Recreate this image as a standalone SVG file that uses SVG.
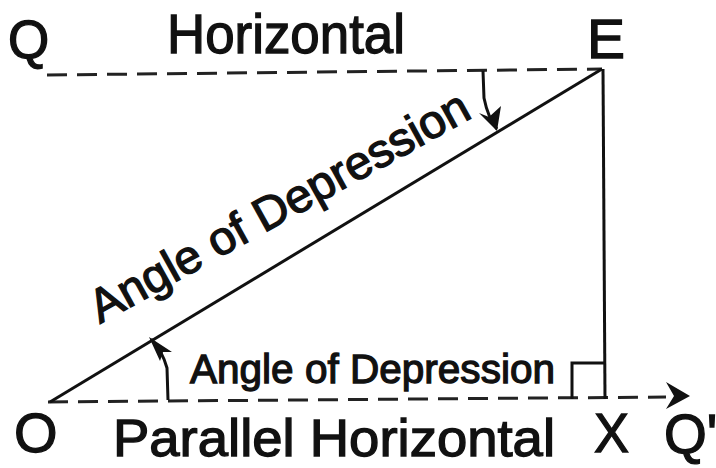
<svg xmlns="http://www.w3.org/2000/svg" width="716" height="468" viewBox="0 0 716 468">
<style>
.t{font-family:"Liberation Sans",Arial,sans-serif;fill:#111;stroke:#111;stroke-width:1.3;}
.ln{stroke:#111;stroke-width:3;fill:none;}
.dash{stroke:#222;stroke-width:3;fill:none;stroke-dasharray:20 10;}
</style>
<rect width="716" height="468" fill="#fff"/>
<g id="connectors">
  <path class="dash" d="M47,75 L602,69"/>
  <path class="dash" d="M48,402 L666,397"/>
  <path class="ln" d="M50,402 L602,69"/>
  <path class="ln" d="M603,69 L605,399"/>
  <path class="ln" d="M572,399 L572,363 L605,363"/>
  <path d="M666,382 L690,396 L666,409 L674,396 Z" fill="#111"/>
  <path class="ln" d="M483,71 L484,98 Q488,118 497,129"/>
  <path d="M497,131 L479,113 L489,117 L501,106 Z" fill="#111"/>
  <path class="ln" d="M168,400 L167,368 Q162,350 151,339"/>
  <path d="M149,337 L172,352 L163,352 L160,361 Z" fill="#111"/>
</g>
<g id="Q"><text class="t" x="8" y="58" font-size="53">Q</text></g>
<g id="horizontal"><text class="t" x="167" y="53" font-size="55" textLength="238" lengthAdjust="spacingAndGlyphs">Horizontal</text></g>
<g id="E"><text class="t" x="587" y="58" font-size="55" textLength="38" lengthAdjust="spacingAndGlyphs">E</text></g>
<g id="diag-label"><text class="t" transform="translate(100,324) rotate(-29)" font-size="47" textLength="427" lengthAdjust="spacingAndGlyphs">Angle of Depression</text></g>
<g id="angle-label"><text class="t" x="190" y="383" font-size="41" textLength="365" lengthAdjust="spacingAndGlyphs">Angle of Depression</text></g>
<g id="O"><text class="t" x="14" y="452" font-size="56">O</text></g>
<g id="parallel"><text class="t" x="113" y="456" font-size="52" textLength="442" lengthAdjust="spacingAndGlyphs">Parallel Horizontal</text></g>
<g id="X"><text class="t" x="594" y="452" font-size="55" textLength="35" lengthAdjust="spacingAndGlyphs">X</text></g>
<g id="Qp"><text class="t" x="664" y="453" font-size="55">Q'</text></g>
</svg>
